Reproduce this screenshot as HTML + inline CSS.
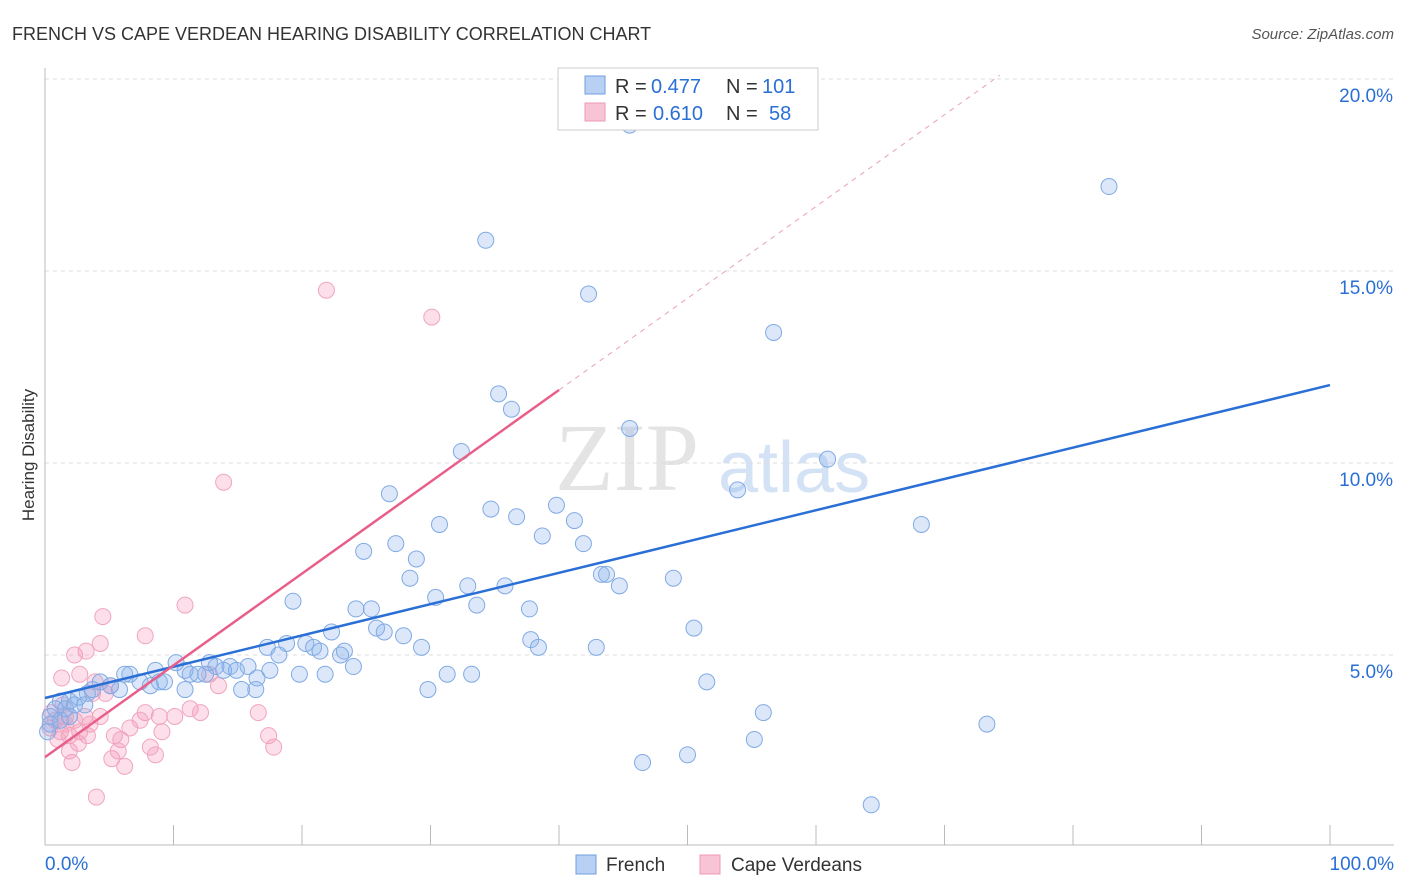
<!DOCTYPE html>
<html><head><meta charset="utf-8"><style>
body{margin:0;background:#fff;font-family:"Liberation Sans",sans-serif;}
#wrap{position:relative;width:1406px;height:892px;overflow:hidden;}
</style></head><body>
<div id="wrap">
<svg id="svg" width="1406" height="892" xmlns="http://www.w3.org/2000/svg">
<text x="12" y="40" font-size="18" fill="#333">FRENCH VS CAPE VERDEAN HEARING DISABILITY CORRELATION CHART</text>
<text x="1394" y="39" font-size="15" fill="#555" font-style="italic" text-anchor="end">Source: ZipAtlas.com</text>
<text x="34" y="455" font-size="17" fill="#333" transform="rotate(-90 34 455)" text-anchor="middle">Hearing Disability</text>
<g><text x="555" y="490" font-size="96" fill="#e4e4e4" font-family="Liberation Serif,serif">ZIP</text><text x="718" y="492" font-size="72" fill="#d3e2f5">atlas</text></g>
<g id="grid"></g><g id="pts"></g><g id="lines"></g>
<g>
<rect x="558" y="68" width="260" height="62" fill="#fff" stroke="#ccc"/>
<rect x="585" y="76" width="20" height="18" fill="#b7d0f3" stroke="#6f9fdf"/>
<rect x="585" y="103" width="20" height="18" fill="#f8c3d4" stroke="#ee9ab5"/>
<text x="615" y="93" font-size="20" fill="#333">R =</text>
<text x="651" y="93" font-size="20" fill="#2a6fd6">0.477</text>
<text x="726" y="93" font-size="20" fill="#333">N =</text>
<text x="762" y="93" font-size="20" fill="#2a6fd6">101</text>
<text x="615" y="120" font-size="20" fill="#333">R =</text>
<text x="653" y="120" font-size="20" fill="#2a6fd6">0.610</text>
<text x="726" y="120" font-size="20" fill="#333">N =</text>
<text x="769" y="120" font-size="20" fill="#2a6fd6">58</text>
</g>
<g>
<rect x="576" y="855" width="20" height="19" fill="#b7d0f3" stroke="#6f9fdf"/>
<text x="606" y="871" font-size="19" fill="#333">French</text>
<rect x="700" y="855" width="20" height="19" fill="#f8c3d4" stroke="#ee9ab5"/>
<text x="731" y="871" font-size="19" fill="#333">Cape Verdeans</text>
</g>
</svg></div>
<script>
const yTicks=[5,10,15,20];
const yTickLabels=["5.0%","10.0%","15.0%","20.0%"];
const xTickLabels=["0.0%","100.0%"];
const frenchX=[45.5,82.8,34.3,42.3,56.7,35.3,36.3,45.5,32.4,60.9,26.8,53.9,39.8,34.7,36.7,41.2,30.7,68.2,38.7,41.9,24.8,27.3,28.9,28.4,43.3,43.7,48.9,32.9,35.8,44.7,19.3,30.4,24.2,25.4,33.6,37.7,25.8,26.4,22.3,27.9,37.8,50.5,38.4,17.3,18.8,20.3,20.9,21.4,23.3,23.0,29.3,42.9,18.2,24.0,15.8,14.4,13.3,12.8,13.9,11.9,10.9,10.2,8.6,7.4,8.9,6.6,6.2,11.3,12.5,14.9,17.5,19.8,21.8,31.3,33.2,16.5,9.3,8.2,4.3,5.8,5.1,3.7,3.3,2.6,1.9,1.2,0.8,0.4,1.6,2.3,3.1,10.9,15.3,16.4,29.8,51.5,55.9,73.3,55.2,46.5,50.0,64.3,0.4,1.2,1.9,0.2];
const frenchY=[18.8,17.2,15.8,14.4,13.4,11.8,11.4,10.9,10.3,10.1,9.2,9.3,8.9,8.8,8.6,8.5,8.4,8.4,8.1,7.9,7.7,7.9,7.5,7.0,7.1,7.1,7.0,6.8,6.8,6.8,6.4,6.5,6.2,6.2,6.3,6.2,5.7,5.6,5.6,5.5,5.4,5.7,5.2,5.2,5.3,5.3,5.2,5.1,5.1,5.0,5.2,5.2,5.0,4.7,4.7,4.7,4.7,4.8,4.6,4.5,4.6,4.8,4.6,4.3,4.3,4.5,4.5,4.5,4.5,4.6,4.6,4.5,4.5,4.5,4.5,4.4,4.3,4.2,4.3,4.1,4.2,4.1,4.0,3.9,3.8,3.8,3.6,3.4,3.6,3.7,3.7,4.1,4.1,4.1,4.1,4.3,3.5,3.2,2.8,2.2,2.4,1.1,3.2,3.3,3.4,3.0];
const capeX=[21.9,30.1,13.9,10.9,4.5,7.8,4.3,2.3,3.2,1.3,2.7,3.9,5.1,12.8,13.5,3.7,4.7,11.3,12.1,16.6,8.9,10.1,7.8,6.6,5.4,9.1,3.1,4.3,2.3,1.6,0.8,0.4,1.2,1.9,3.3,17.4,5.9,8.2,8.6,5.2,6.2,2.1,4.0,17.8,1.9,1.0,2.7,0.5,1.4,1.6,2.6,3.5,7.4,5.7];
const capeY=[14.5,13.8,9.5,6.3,6.0,5.5,5.3,5.0,5.1,4.4,4.5,4.3,4.2,4.5,4.2,4.0,4.0,3.6,3.5,3.5,3.4,3.4,3.5,3.1,2.9,3.0,3.4,3.4,3.3,3.4,3.3,3.1,3.0,2.9,2.9,2.9,2.8,2.6,2.4,2.3,2.1,2.2,1.3,2.6,2.5,2.8,3.0,3.5,3.7,3.2,2.7,3.2,3.3,2.5];
const frenchTrend=[3.88,12.03];
const capeTrend=[2.34,0.239];
const NS="http://www.w3.org/2000/svg";
const X=v=>45+v*12.85, Y=v=>847-v*38.4;
function mk(tag,attrs,parent){const e=document.createElementNS(NS,tag);for(const k in attrs)e.setAttribute(k,attrs[k]);parent.appendChild(e);return e;}
const grid=document.getElementById('grid');
yTicks.forEach((t,i)=>{
 const l=mk('line',{x1:45,x2:1394,y1:Y(t),y2:Y(t),stroke:'#ddd','stroke-dasharray':'4,4'},grid);
 
 
 const tx=mk('text',{x:1393,y:Y(t)+23,'font-size':19,fill:'#2a6fd6','text-anchor':'end'},grid);
 tx.textContent=yTickLabels[i];
 
 
});
const ax=mk('line',{x1:45,x2:45,y1:68,y2:845,stroke:'#bbb'},grid);


const bx=mk('line',{x1:45,x2:1394,y1:845,y2:845,stroke:'#bbb'},grid);


for(let i=0;i<=10;i++){
 const t=mk('line',{x1:X(i*10),x2:X(i*10),y1:825,y2:845,stroke:'#bbb'},grid);
 
 
}
[[0,'start',45],[1,'end',1394]].forEach(([i,a,x])=>{
 const tx=mk('text',{x:x,y:870,'font-size':19,fill:'#2a6fd6','text-anchor':a},grid);
 tx.textContent=xTickLabels[i];
 
 
});
const pts=document.getElementById('pts');
capeX.forEach((v,i)=>{
 const c=mk('circle',{cx:X(v),cy:Y(capeY[i]),r:8,fill:'rgba(244,150,185,0.3)',stroke:'#f0a5be','stroke-width':1},pts);
 
 
});
frenchX.forEach((v,i)=>{
 const c=mk('circle',{cx:X(v),cy:Y(frenchY[i]),r:8,fill:'rgba(140,180,235,0.3)',stroke:'#80aae4','stroke-width':1},pts);
 
 
});
const lines=document.getElementById('lines');
const fl=mk('line',{x1:X(0),y1:Y(frenchTrend[0]),x2:X(100),y2:Y(frenchTrend[1]),stroke:'#2a6fd6','stroke-width':2.5},lines);


const cy=x=>capeTrend[0]+capeTrend[1]*x;
const cl=mk('line',{x1:X(0),y1:Y(cy(0)),x2:X(40),y2:Y(cy(40)),stroke:'#e8608a','stroke-width':2.5},lines);


const cd=mk('line',{x1:X(40),y1:Y(cy(40)),x2:X(74.3),y2:Y(cy(74.3)),stroke:'#e8a0b8','stroke-width':1,'stroke-dasharray':'5,5'},lines);


</script>
</body></html>
